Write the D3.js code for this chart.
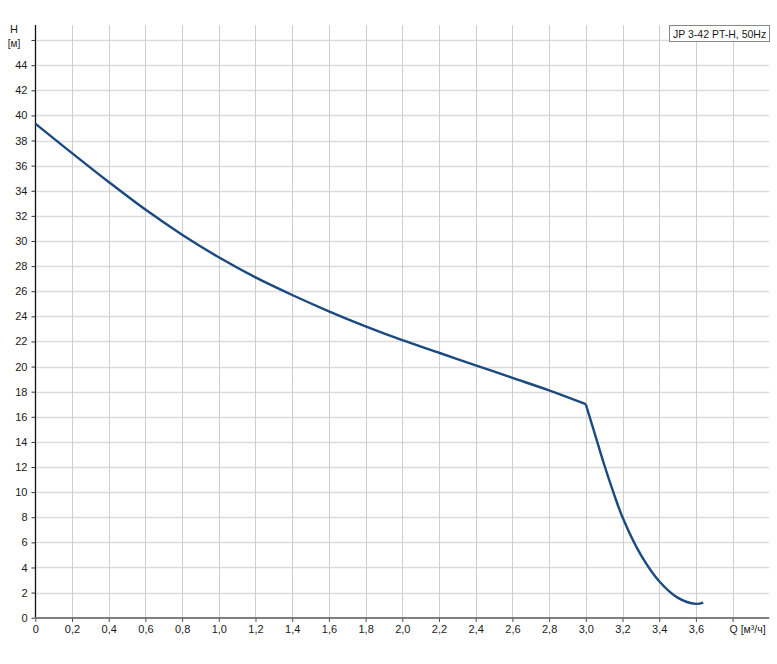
<!DOCTYPE html>
<meta charset="utf-8">
<script src="https://d3js.org/d3.v7.min.js"></script>
<style>
  body { margin: 0; background: #fff; }
  text { font-family: "Liberation Sans", Arial, sans-serif; }
</style>
<body>
<div id="chart"></div>
<script>
// pump curve values
var flowQ = [0, 0.2, 0.4, 0.6, 0.8, 1.0, 1.2, 1.4, 1.6, 1.8, 2.0, 2.2, 2.4, 2.6, 2.8, 3.0,
             3.05, 3.1, 3.15, 3.2, 3.3, 3.4, 3.5, 3.6, 3.64];
var headH = [39.35, 37.0, 34.7, 32.5, 30.5, 28.7, 27.1, 25.7, 24.4, 23.2, 22.1, 21.1, 20.1, 19.1, 18.1, 17.0,
             14.6, 12.2, 10.0, 8.0, 5.0, 2.9, 1.6, 1.1, 1.2];
var kneeIndex = 15; // curve has a sharp corner at Q = 3,0

var xTicks = [0, 0.2, 0.4, 0.6, 0.8, 1.0, 1.2, 1.4, 1.6, 1.8, 2.0, 2.2, 2.4, 2.6, 2.8, 3.0, 3.2, 3.4, 3.6];
var xGrid = xTicks.concat([3.8]);
var yTicks = [0, 2, 4, 6, 8, 10, 12, 14, 16, 18, 20, 22, 24, 26, 28, 30, 32, 34, 36, 38, 40, 42, 44];
var yGrid = yTicks.concat([46]);
var legendLabel = "JP 3-42 PT-H, 50Hz";
var xUnit = "Q [м³/ч]";

var W = 777, H = 664;
var pLeft = 35.3, pRight = 769.3, pTop = 25, pBottom = 617.7;

var svg = d3.select("#chart").append("svg")
  .attr("width", W).attr("height", H);

var x = d3.scaleLinear().domain([0, 4.0]).range([pLeft, pRight]);
var y = d3.scaleLinear().domain([0, 47.2]).range([pBottom, pTop]);

var fmtX = function(v) { return v === 0 ? "0" : d3.format(".1f")(v).replace(".", ","); };

// grid
svg.append("g").selectAll("line").data(yGrid.filter(d => d > 0)).enter().append("line")
  .attr("x1", pLeft).attr("x2", pRight)
  .attr("y1", d => Math.round(y(d)) + 0.5).attr("y2", d => Math.round(y(d)) + 0.5)
  .attr("stroke", "#dcdcdc").attr("stroke-width", 1.6);

svg.append("g").selectAll("line").data(xGrid.filter(d => d > 0)).enter().append("line")
  .attr("x1", d => Math.round(x(d)) + 0.5).attr("x2", d => Math.round(x(d)) + 0.5)
  .attr("y1", pTop).attr("y2", pBottom)
  .attr("stroke", "#cfcfcf").attr("stroke-width", 1);

// y axis
var yAxis = svg.append("g").attr("transform", "translate(" + (Math.round(pLeft) + 0.5) + ",0)")
  .call(d3.axisLeft(y).tickValues(yGrid).tickSize(4).tickPadding(4)
    .tickFormat(d => d === 46 ? "" : String(d)));
yAxis.select(".domain").attr("d", "M0," + pTop + "V" + pBottom).attr("stroke", "#111").attr("stroke-width", 1.3);
yAxis.selectAll(".tick line").attr("stroke", "#333");
yAxis.selectAll(".tick text").attr("font-size", 11).attr("fill", "#1a1a1a")
  .style("font-family", "'Liberation Sans', Arial, sans-serif");

// x axis
var xAxis = svg.append("g").attr("transform", "translate(0," + Math.round(pBottom) + ")")
  .call(d3.axisBottom(x).tickValues(xGrid).tickSize(4).tickPadding(3)
    .tickFormat(d => d > 3.7 ? "" : fmtX(d)));
xAxis.select(".domain").attr("d", "M" + pLeft + ",0H" + pRight).attr("stroke", "#808080").attr("stroke-width", 2.2);
xAxis.selectAll(".tick line").attr("stroke", "#555");
xAxis.selectAll(".tick text").attr("font-size", 11).attr("fill", "#1a1a1a")
  .style("font-family", "'Liberation Sans', Arial, sans-serif");

svg.append("text").attr("x", x(3.8) - 3).attr("y", pBottom + 15)
  .attr("font-size", 10.5).attr("fill", "#1a1a1a").text(xUnit);

// y label
svg.append("text").attr("x", 14).attr("y", 33).attr("text-anchor", "middle")
  .attr("font-size", 11).attr("fill", "#1a1a1a").text("H");
svg.append("text").attr("x", 14).attr("y", 47).attr("text-anchor", "middle")
  .attr("font-size", 10).attr("fill", "#1a1a1a").text("[м]");

// curve, two pieces so the corner at 3,0 stays sharp
var pts = flowQ.map((q, i) => [q, headH[i]]);
var line = d3.line().x(d => x(d[0])).y(d => y(d[1])).curve(d3.curveCatmullRom.alpha(0.5));
[pts.slice(0, kneeIndex + 1), pts.slice(kneeIndex)].forEach(function(seg) {
  svg.append("path").datum(seg)
    .attr("d", line)
    .attr("fill", "none")
    .attr("stroke", "#1a4a7f")
    .attr("stroke-width", 2.4)
    .attr("stroke-linejoin", "round");
});

// legend box
var lg = svg.append("g");
lg.append("rect").attr("x", 669.5).attr("y", 25.5).attr("width", 100).attr("height", 16)
  .attr("fill", "#fff").attr("stroke", "#888");
lg.append("text").attr("x", 673).attr("y", 37.5).attr("font-size", 10.5).attr("fill", "#1a1a1a")
  .text(legendLabel);
</script>
</body>
